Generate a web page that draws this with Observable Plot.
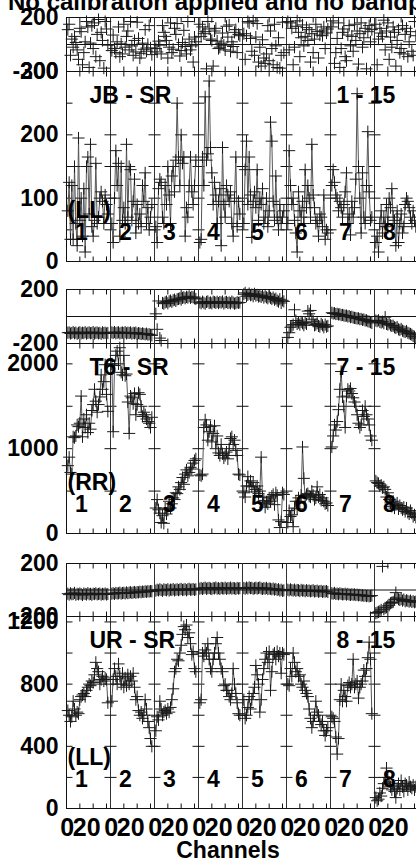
<!DOCTYPE html>
<html><head><meta charset="utf-8">
<script src="https://cdn.jsdelivr.net/npm/d3@7"></script>
<script src="https://cdn.jsdelivr.net/npm/@observablehq/plot@0.6"></script>
<style>
html,body{margin:0;padding:0;background:#fff;}
#wrap{position:relative;width:416px;height:862px;overflow:hidden;font-family:"Liberation Sans",Arial,Helvetica,sans-serif;}
#title{position:absolute;left:8px;top:-10px;font-size:24px;font-weight:bold;white-space:nowrap;line-height:24px;color:#000;}
#wrap svg{position:absolute;left:0;}
</style></head><body>
<div id="wrap"><div id="title">No calibration applied and no bandpass</div></div>
<script>
// ---------- labels ----------
const ifLabels = ["1","2","3","4","5","6","7","8"];
const baselines = ["JB - SR", "T6 - SR", "UR - SR"];
const sourceLabels = ["1 - 15", "7 - 15", "8 - 15"];
const stokesLabels = ["(LL)", "(RR)", "(LL)"];
const phaseTickLabels = [-200, 200];
const jbAmpTickLabels = [0, 100, 200, 300];
const t6AmpTickLabels = [0, 1000, 2000];
const urAmpTickLabels = [0, 400, 800, 1200];
const jbAmpMinor = [0, 50, 100, 150, 200, 250, 300];
const t6AmpMinor = [0, 500, 1000, 1500, 2000];
const urAmpMinor = [0, 200, 400, 600, 800, 1000, 1200];
const xTickChannels = [0, 20];
const xMinorChannels = [10, 20, 30];
const channels = [1,2,3,4,5,6,7,8,9,10,11,12,13,14,15,16,17,18,19,20,21,22,23,24,25,26,27,28,29,30,31];

// ---------- JB - SR ----------
const jbPhase = [
 [110,150,-80,40,-20,60,15,-40,-110,120,95,-150,-60,20,170,130,-170,10,140,-30,160,-90,75,185,-120,90,30,-175,170,115,-5],
 [-45,70,-30,-60,20,130,-90,5,-70,150,-20,60,100,-40,170,-10,-80,30,-55,165,45,-100,-65,10,-35,110,-50,0,140,-25,-75],
 [-30,-55,25,-5,-70,140,90,60,30,-100,-20,160,-60,-35,120,75,155,0,-85,-45,15,105,-15,-70,170,40,-40,-10,-130,55,20],
 [150,60,130,80,95,-180,170,115,40,30,-160,100,120,25,-30,-20,10,85,-5,-40,135,55,145,-50,20,-15,90,110,-60,75,65],
 [80,-110,65,170,160,45,-50,175,-80,55,155,-130,-20,-160,35,-100,-140,-70,140,-120,100,-30,-150,150,-10,-170,50,-175,-80,165,-60],
 [170,-40,160,120,-150,-20,135,175,90,-90,50,145,-10,60,125,30,110,-130,80,-60,40,150,95,-100,70,100,65,130,-30,85,115],
 [130,175,-140,-60,45,160,-170,-30,90,115,-90,-120,70,140,-10,60,-50,150,30,100,-145,80,160,-20,50,120,-180,95,140,20,110],
 [150,-150,40,120,85,60,180,-40,100,160,-110,55,-20,130,90,-160,30,110,-60,-30,140,-70,75,120,-90,20,95,-50,-80,170,65]
];
const jbAmp = [
 [80,125,35,120,35,150,60,25,195,65,100,40,115,15,150,165,75,185,55,40,65,155,60,70,100,110,95,60,105,90,75],
 [60,30,100,175,120,155,40,150,65,85,60,185,70,150,145,65,95,130,45,90,60,75,55,120,95,140,60,85,50,70,90],
 [55,30,115,130,125,70,60,120,90,150,105,60,135,150,110,160,250,165,120,200,155,165,40,85,70,120,165,110,90,120,160],
 [30,35,165,120,260,160,170,285,180,140,90,125,105,60,95,115,25,180,90,70,120,105,95,110,60,40,100,165,55,95,75],
 [60,145,190,90,165,105,38,95,110,85,145,65,100,90,115,60,70,100,55,80,220,190,95,65,135,70,50,90,60,70,80],
 [60,175,120,90,100,65,45,15,110,80,70,95,60,145,85,120,100,70,185,105,85,60,65,40,75,70,55,105,35,50,45],
 [120,145,125,105,100,80,95,85,70,90,110,140,60,75,42,95,70,85,130,265,150,100,45,140,70,60,120,205,110,65,70],
 [30,40,15,60,80,45,70,55,90,60,100,85,115,70,65,25,80,30,60,75,45,55,90,100,95,85,70,60,80,65,55]
];

// ---------- T6 - SR ----------
const t6Phase = [
 [-120,-118,-126,-122,-115,-124,-119,-128,-121,-117,-125,-120,-123,-116,-127,-121,-118,-124,-122,-115,-126,-120,-119,-125,-121,-128,-117,-123,-120,-126,-122],
 [-118,-122,-115,-124,-120,-117,-126,-121,-119,-123,-116,-125,-120,-122,-118,-127,-121,-124,-119,-128,-123,-126,-130,-125,-129,-132,-127,-134,-131,-136,-140],
 [20,-95,115,-160,-178,100,95,105,110,98,112,118,108,120,125,115,128,130,135,125,138,142,135,145,140,150,138,145,142,135,130],
 [105,98,110,102,95,108,112,100,104,97,110,106,101,109,99,107,103,111,96,105,108,100,104,98,110,103,95,99,106,101,104],
 [165,175,150,160,170,158,162,150,168,155,160,148,152,145,158,140,150,142,135,148,138,130,140,125,132,118,110,128,100,120,112],
 [-155,-120,-80,-70,-60,50,-30,-55,-45,-60,-40,-50,-65,-45,-55,40,20,45,-20,-35,-65,-60,-50,-70,-75,-55,-65,-80,-60,-75,-70],
 [28,22,25,18,20,15,17,10,12,8,5,7,0,3,-5,-2,-8,-10,-12,-15,-13,-20,-18,-25,-22,-30,-28,-35,-38,-42,-48],
 [-30,-35,-28,-40,-45,-38,-50,-5,-55,-60,-52,-65,-70,-68,-80,-85,-78,-95,-100,-92,-105,-110,-115,-108,-120,-125,-130,-135,-145,-150,-160]
];
const t6Amp = [
 [800,900,720,700,1140,1130,1150,1280,1260,1300,1620,1140,1350,1250,1400,1190,1300,1230,1450,1520,1700,1560,1430,1520,1610,1870,1700,1790,1990,1640,1440],
 [2000,1200,1980,2100,2150,2000,2190,1900,1870,2100,1860,1880,1550,1180,1620,1600,1530,1650,1400,1520,1660,1640,1500,1380,1430,1400,1350,1320,1300,1250,1370],
 [300,400,280,240,130,210,120,300,230,290,380,300,350,420,400,480,470,550,520,600,660,580,700,750,680,720,780,760,830,860,880],
 [690,680,700,1250,1340,1280,1100,1200,1260,1080,1180,1270,1000,1150,950,920,1050,940,890,920,960,880,1000,1120,1140,1050,1100,980,920,700,690],
 [480,430,560,670,560,620,550,600,490,520,560,470,500,900,430,390,310,370,350,420,380,440,460,340,480,450,160,70,140,480,460],
 [130,270,200,220,80,300,380,290,420,380,450,1020,650,420,460,470,440,430,500,450,400,420,550,430,460,390,420,380,350,360,330],
 [1020,1150,1280,1220,1320,1460,1700,1910,1610,1500,1250,1620,1700,1680,1710,1650,1600,1550,1500,1400,1300,1250,1280,1450,1380,1500,1400,1350,1280,1150,1100],
 [620,600,590,560,570,540,550,520,430,480,400,360,320,380,300,340,360,290,330,300,280,310,260,300,250,230,270,240,200,220,190]
];

// ---------- UR - SR ----------
const urPhase = [
 [-28,-35,-25,-32,-30,-22,-36,-29,-33,-26,-31,-38,-27,-30,-34,-24,-32,-29,-36,-28,-31,-25,-33,-30,-27,-35,-29,-32,-26,-34,-30],
 [-28,-24,-30,-22,-26,-25,-20,-27,-23,-21,-26,-18,-24,-20,-17,-22,-19,-15,-21,-16,-18,-13,-17,-12,-15,-10,-14,-9,-12,-8,-10],
 [-5,2,-3,5,0,-6,4,1,-2,6,-4,3,0,7,-3,2,5,-1,4,8,0,3,6,-2,5,9,2,4,7,1,5],
 [10,15,8,14,18,9,13,16,11,7,15,12,19,10,14,8,16,13,11,17,9,14,12,18,10,15,13,8,16,11,14],
 [15,10,18,12,20,14,16,9,13,17,11,15,19,12,8,14,10,16,7,12,9,5,11,3,8,0,6,-4,2,-6,-3],
 [2,-3,5,-1,-4,3,-6,0,-2,-8,1,-5,-3,-9,-1,-7,-4,-10,-6,-2,-11,-8,-5,-13,-9,-7,-14,-10,-12,-8,-15],
 [-25,-28,-22,-30,-27,-32,-26,-29,-33,-31,-28,-35,-30,-34,-37,-32,-36,-33,-38,-35,-40,-37,-42,-39,-44,-41,-46,-43,-48,-45,-42],
 [-175,-170,-165,-160,-150,178,-145,-135,-130,-120,-115,-100,-95,-90,-70,-20,-60,-70,-75,-68,-80,-72,-85,-78,-82,-88,-80,-90,-85,-92,-88]
];
const urAmp = [
 [630,600,560,590,690,640,600,620,610,700,720,730,740,720,760,780,800,790,820,810,860,940,900,880,800,830,850,820,840,830,680],
 [690,830,900,850,800,930,850,800,870,780,840,790,860,800,850,820,870,780,700,720,630,600,620,580,600,700,640,560,520,450,400],
 [500,590,570,690,640,600,620,630,610,640,620,650,700,770,880,900,960,950,1000,1050,1120,1170,1150,1180,1100,1130,1060,990,1010,900,880],
 [680,700,1000,980,1020,1000,1060,960,900,880,960,1000,1060,1100,1000,960,900,880,790,800,760,760,720,700,740,900,800,740,680,610,600],
 [700,580,600,650,720,640,700,740,780,920,860,800,620,700,830,900,960,1000,940,1010,760,880,990,1000,960,1010,980,1000,870,1000,990],
 [800,790,900,850,1000,940,880,900,850,860,800,780,820,760,740,720,640,580,520,560,600,690,620,600,560,540,560,500,470,500,520],
 [590,580,560,460,350,450,700,800,690,760,720,690,790,810,780,800,960,780,800,820,710,780,800,820,890,850,900,970,1070,960,610],
 [70,50,60,100,80,130,160,200,260,200,170,140,120,150,110,70,130,160,120,180,140,110,160,150,120,170,140,130,150,120,140]
];

// ---------- layout ----------
const SLOT = 33; // channel slots per IF on the x axis
const FONT = '"Liberation Sans", Arial, Helvetica, sans-serif';
const panels = [
  {kind:"phase", series: jbPhase, top:17,  h:54,  domain:[-200,200], labels: phaseTickLabels},
  {kind:"amp",   series: jbAmp,   top:71,  h:190, domain:[0,300],  labels: jbAmpTickLabels, minor: jbAmpMinor, b:0},
  {kind:"phase", series: t6Phase, top:289, h:54,  domain:[-200,200], labels: phaseTickLabels},
  {kind:"amp",   series: t6Amp,   top:343, h:190, domain:[0,2240], labels: t6AmpTickLabels, minor: t6AmpMinor, b:1},
  {kind:"phase", series: urPhase, top:563, h:53,  domain:[-200,200], labels: phaseTickLabels},
  {kind:"amp",   series: urAmp,   top:616, h:192, domain:[0,1235], labels: urAmpTickLabels, minor: urAmpMinor, b:2, last:true}
];

const sym = (f) => ({draw(ctx, size){ const r = Math.sqrt(size / Math.PI); f(ctx, r); }});
const hDash  = sym((c,r)=>{c.moveTo(-r,0); c.lineTo(r,0);});
const hRight = sym((c,r)=>{c.moveTo(0,0); c.lineTo(r,0);});
const vUp    = sym((c,r)=>{c.moveTo(0,0); c.lineTo(0,-r);});
const vDown  = sym((c,r)=>{c.moveTo(0,0); c.lineTo(0,r);});

const wrap = document.getElementById("wrap");
const starts = ifLabels.map((_, k) => k * SLOT);
const inner = starts.slice(1);
const xMinor = starts.flatMap(s => xMinorChannels.map(c => s + c));
const INK = "#111";

for (const p of panels) {
  const mt = 14, mb = p.last ? 62 : 14;
  const pts = p.series.flatMap((vals, k) => vals.map((v, i) => ({x: starts[k] + channels[i], y: v, k})));
  const marks = [
    Plot.frame({stroke: INK}),
    Plot.ruleX(inner, {stroke: "#333"}),
  ];
  if (p.kind === "phase") marks.push(Plot.ruleY([0], {stroke: INK}));
  marks.push(Plot.dot(xMinor, {x: d => d, y: () => p.domain[1], symbol: vDown, r: 5, stroke: INK, fill: "none", strokeWidth: 1}));
  marks.push(Plot.dot(xMinor, {x: d => d, y: () => p.domain[0], symbol: vUp, r: 5, stroke: INK, fill: "none", strokeWidth: 1}));
  if (p.minor) {
    const cross = inner.flatMap(s => p.minor.map(t => ({x: s, y: t})));
    marks.push(Plot.dot(cross, {x: "x", y: "y", symbol: hDash, r: 6, stroke: INK, fill: "none", strokeWidth: 1}));
    marks.push(Plot.dot(p.minor, {x: () => 0, y: d => d, symbol: hRight, r: 6, stroke: INK, fill: "none", strokeWidth: 1}));
    marks.push(Plot.line(pts, {x: "x", y: "y", z: "k", stroke: "#555", strokeWidth: 1}));
  }
  marks.push(Plot.dot(pts, {x: "x", y: "y", symbol: "plus", r: 4, stroke: "#1a1a1a", strokeWidth: 1}));
  marks.push(Plot.text(p.labels, {y: d => d, frameAnchor: "left", dx: -8, textAnchor: "end", lineAnchor: "middle",
    text: d => String(d), fontSize: 23, fontWeight: "bold", fill: "#000"}));
  if (p.kind === "amp") {
    const tx = {fontSize: 23, fontWeight: "bold", fill: "#000", text: d => d, lineAnchor: "middle"};
    marks.push(Plot.text([baselines[p.b]], {...tx, frameAnchor: "top-left", dx: 23, dy: 24.5, textAnchor: "start"}));
    marks.push(Plot.text([sourceLabels[p.b]], {...tx, frameAnchor: "top-left", dx: 270, dy: 24.5, textAnchor: "start"}));
    marks.push(Plot.text([stokesLabels[p.b]], {...tx, frameAnchor: "bottom-left", dx: 1, dy: -50.5, textAnchor: "start"}));
    marks.push(Plot.text(ifLabels, {...tx, x: (d, i) => starts[i], frameAnchor: "bottom", dx: 15, dy: -28.5, textAnchor: "middle"}));
  }
  if (p.last) {
    const xs = {frameAnchor: "bottom", dy: 27, lineAnchor: "bottom", fontSize: 25, fontWeight: "bold", fill: "#000", textAnchor: "middle"};
    marks.push(Plot.text(starts, {...xs, x: d => d + xTickChannels[0], text: () => String(xTickChannels[0]), dx: 0.7}));
    marks.push(Plot.text(starts, {...xs, x: d => d + xTickChannels[1], text: () => String(xTickChannels[1]), dx: -6.4}));
    marks.push(Plot.text(["Channels"], {text: d => d, frameAnchor: "bottom", dx: -14.5, dy: 49, lineAnchor: "bottom",
      textAnchor: "middle", fontSize: 23, fontWeight: "bold", fill: "#000"}));
  }
  const svg = Plot.plot({
    width: 430, height: p.h + mt + mb,
    marginLeft: 66, marginRight: 12, marginTop: mt, marginBottom: mb,
    x: {domain: [0, SLOT * 8], axis: null},
    y: {domain: p.domain, axis: null},
    style: {background: "transparent", overflow: "visible", maxWidth: "none", fontFamily: FONT, fontSize: "22px", fontWeight: "bold", color: "#000"},
    marks
  });
  svg.style.top = (p.top - mt) + "px";
  wrap.appendChild(svg);
}
</script>
</body></html>
